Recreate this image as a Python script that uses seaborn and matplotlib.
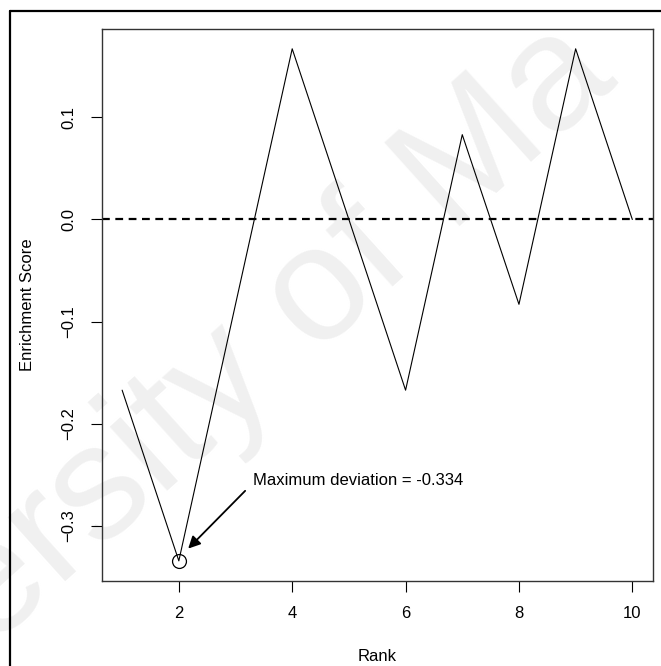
import matplotlib
matplotlib.use("Agg")
import matplotlib.pyplot as plt
from matplotlib.lines import Line2D
import seaborn as sns
import pandas as pd

# --- Data (running enrichment score per rank) ---
rank = [1, 2, 3, 4, 5, 6, 7, 8, 9, 10]
enrichment = [-0.167, -0.334, -0.083, 0.167, 0.0, -0.167, 0.083, -0.083, 0.167, 0.0]
x_ticks = [2, 4, 6, 8, 10]
y_ticks = [-0.3, -0.2, -0.1, 0.0, 0.1]
y_tick_labels = ["\u22120.3", "\u22120.2", "\u22120.1", "0.0", "0.1"]
max_label = "Maximum deviation = -0.334"
watermark = "University of Ma"

df = pd.DataFrame({"Rank": rank, "Enrichment Score": enrichment})
min_idx = df["Enrichment Score"].idxmin()
min_rank = df.loc[min_idx, "Rank"]
min_es = df.loc[min_idx, "Enrichment Score"]

# --- Plotting ---
sns.set_style("white")
plt.rcParams["font.family"] = ["Liberation Sans", "DejaVu Sans"]
plt.rcParams["font.size"] = 12
plt.rcParams["text.color"] = "black"
plt.rcParams["axes.labelcolor"] = "black"
plt.rcParams["xtick.color"] = "black"
plt.rcParams["ytick.color"] = "black"

fig = plt.figure(figsize=(6.61, 6.66), dpi=100)
ax = fig.add_axes([0.1539, 0.1281, 0.8336, 0.8284])

# faint watermark behind everything
fig.text(-0.384, -0.305, watermark, fontsize=118, color="#f0f0f0",
         rotation=42, rotation_mode="anchor", ha="left", va="baseline",
         zorder=-1)
ax.set_facecolor("none")

sns.lineplot(data=df, x="Rank", y="Enrichment Score", color="black",
             linewidth=0.8, ax=ax)
ax.axhline(0, color="black", linewidth=1.6, dashes=(3.5, 2.5))

# mark the maximum deviation
ax.plot([min_rank], [min_es], marker="o", markersize=10, markerfacecolor="none",
        markeredgecolor="black", markeredgewidth=0.9, linestyle="none")
ax.annotate("", xy=(min_rank + 0.165, min_es + 0.012),
             xytext=(min_rank + 1.17, min_es + 0.0685),
             arrowprops=dict(arrowstyle="-|>", color="black", lw=1.3,
                             mutation_scale=18, shrinkA=0, shrinkB=0))
ax.text(min_rank + 1.31, min_es + 0.079, max_label, ha="left", va="center",
        fontsize=12)

# --- Formatting (R base graphics look) ---
ax.set_xlim(0.64, 10.36)
ax.set_ylim(-0.3534, 0.1864)
ax.set_xticks(x_ticks)
ax.set_yticks(y_ticks)
ax.set_yticklabels(y_tick_labels, rotation=90, va="center")
ax.tick_params(axis="both", which="both", direction="out", length=7.6,
               width=0.8, color="black", labelsize=12, pad=10.5,
               labelcolor="black", bottom=True, left=True)
for spine in ax.spines.values():
    spine.set_visible(True)
    spine.set_color("#333333")
    spine.set_linewidth(1.0)

ax.set_xlabel("Rank", fontsize=12)
ax.set_ylabel("Enrichment Score", fontsize=12)
ax.xaxis.set_label_coords(0.5, -0.124)
ax.yaxis.set_label_coords(-0.121, 0.5)

# outer frame (cropped on the right and bottom)
fw = 661.0
fh = 666.0
fig.add_artist(Line2D([10 / fw, 10 / fw], [1 - 11 / fh, -0.01],
                      transform=fig.transFigure, color="black", lw=1.6))
fig.add_artist(Line2D([10 / fw, 1.01], [1 - 11 / fh, 1 - 11 / fh],
                      transform=fig.transFigure, color="black", lw=1.6))

fig.savefig("out.png", dpi=100)
